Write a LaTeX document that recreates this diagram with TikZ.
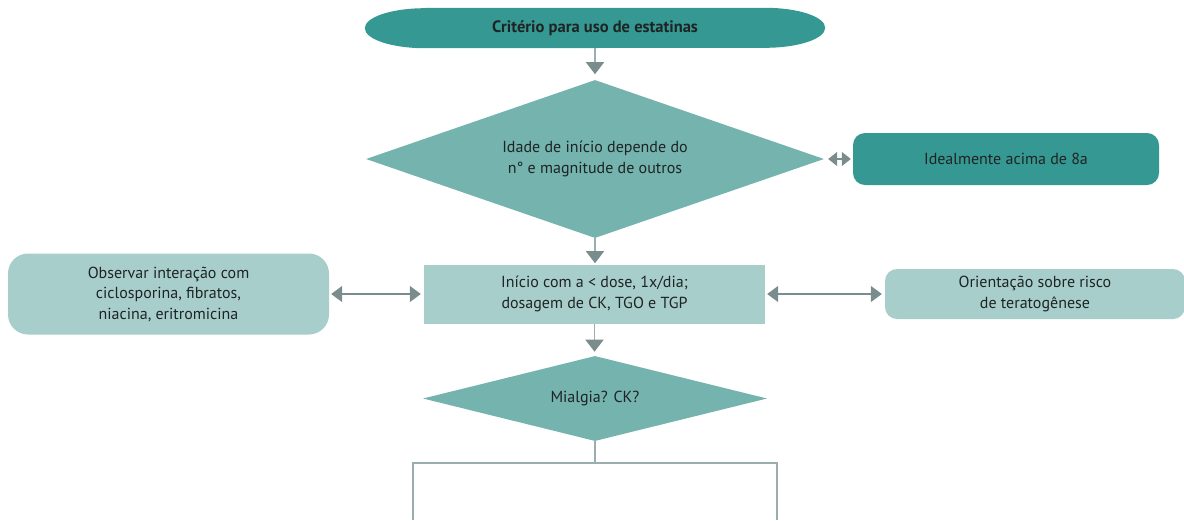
\documentclass[tikz,border=0pt]{standalone}
\usepackage{fontspec}
\setmainfont{PT Sans}
\usetikzlibrary{shapes.geometric,arrows.meta}
\pgfdeclarelayer{background}
\pgfsetlayers{background,main}
\definecolor{tealdark}{HTML}{369892}
\definecolor{tealmid}{HTML}{74B3AE}
\definecolor{teallight}{HTML}{A8CECB}
\definecolor{tipgray}{HTML}{7A8C8C}
\definecolor{shaftgray}{HTML}{9AAEAE}
\definecolor{txt}{HTML}{1E2424}
\tikzset{
  base/.style={inner sep=0pt, text=txt, font=\fontsize{16}{20.5}\selectfont, align=center},
  pill/.style={base, minimum width=460pt, minimum height=40pt},
  dec/.style={base, diamond, fill=tealmid},
  darkbox/.style={base, fill=tealdark, rounded corners=12pt},
  lightbox/.style={base, fill=teallight},
  flow/.style={draw=shaftgray, line width=1.6pt, -{Triangle[width=18pt,length=12pt,fill=tipgray,color=tipgray]}},
  both/.style={draw=tipgray, line width=1.6pt, {Triangle[width=16pt,length=11pt]}-{Triangle[width=16pt,length=11pt]}},
  branch/.style={draw=shaftgray, line width=1.4pt}
}
\begin{document}
\begin{tikzpicture}[x=1pt,y=-1pt]
\useasboundingbox (0,0) rectangle (1184,520);

% title, on a band with elliptical ends
\node[pill, font=\fontsize{16.5}{20}\selectfont\bfseries] (crit) at (595,28) {Critério para uso de estatinas};
\begin{pgfonlayer}{background}
\fill[tealdark] ([xshift=60pt]crit.north west) -- ([xshift=-60pt]crit.north east)
  arc[start angle=90, end angle=-90, x radius=60pt, y radius=20pt]
  -- ([xshift=60pt]crit.south west)
  arc[start angle=270, end angle=90, x radius=60pt, y radius=20pt] -- cycle;
\end{pgfonlayer}

% first decision
\node[dec, minimum width=458pt, minimum height=158pt, aspect=2.9] (idade) at (595,159)
  {Idade de início depende do\\n° e magnitude de outros};
\node[darkbox, minimum width=306pt, minimum height=52pt] (ideal) at (1006,159) {Idealmente acima de 8a};

% start of treatment
\node[lightbox, minimum width=341pt, minimum height=59pt] (inicio) at (594.5,294)
  {Início com a < dose, 1x/dia;\\dosagem de CK, TGO e TGP};
\node[lightbox, rounded corners=20pt, minimum width=321pt, minimum height=81pt] (obs) at (168.5,294)
  {Observar interação com\\ciclosporina, fibratos,\\niacina, eritromicina};
\node[lightbox, rounded corners=12pt, minimum width=300pt, minimum height=50pt] (orient) at (1035,294)
  {Orientação sobre risco\\de teratogênese};

% second decision
\node[dec, minimum width=344pt, minimum height=85pt, aspect=4] (mial) at (595,398.5) {Mialgia? CK?};

% connectors
\draw[flow] (crit.south) -- ([yshift=-26pt]crit.south);
\draw[flow] (idade.south) -- ([yshift=-25pt]idade.south);
\draw[flow] (inicio.south) -- ([yshift=-28pt]inicio.south);
\draw[both, line width=1.2pt, {Triangle[width=14pt,length=9pt]}-{Triangle[width=14pt,length=9pt]}]
  ([xshift=4pt]idade.east) -- ([xshift=-2pt]ideal.west);
\draw[both] ([xshift=2pt]obs.east) -- ([xshift=-3pt]inicio.west);
\draw[both] ([xshift=2pt]inicio.east) -- ([xshift=-3pt]orient.west);

% split below the second decision
\coordinate (split) at (595,463);
\coordinate (lft) at (413,520);
\coordinate (rgt) at (777,520);
\draw[branch] (mial.south) -- (split);
\draw[branch] (lft) |- (split) -| (rgt);
\end{tikzpicture}
\end{document}
